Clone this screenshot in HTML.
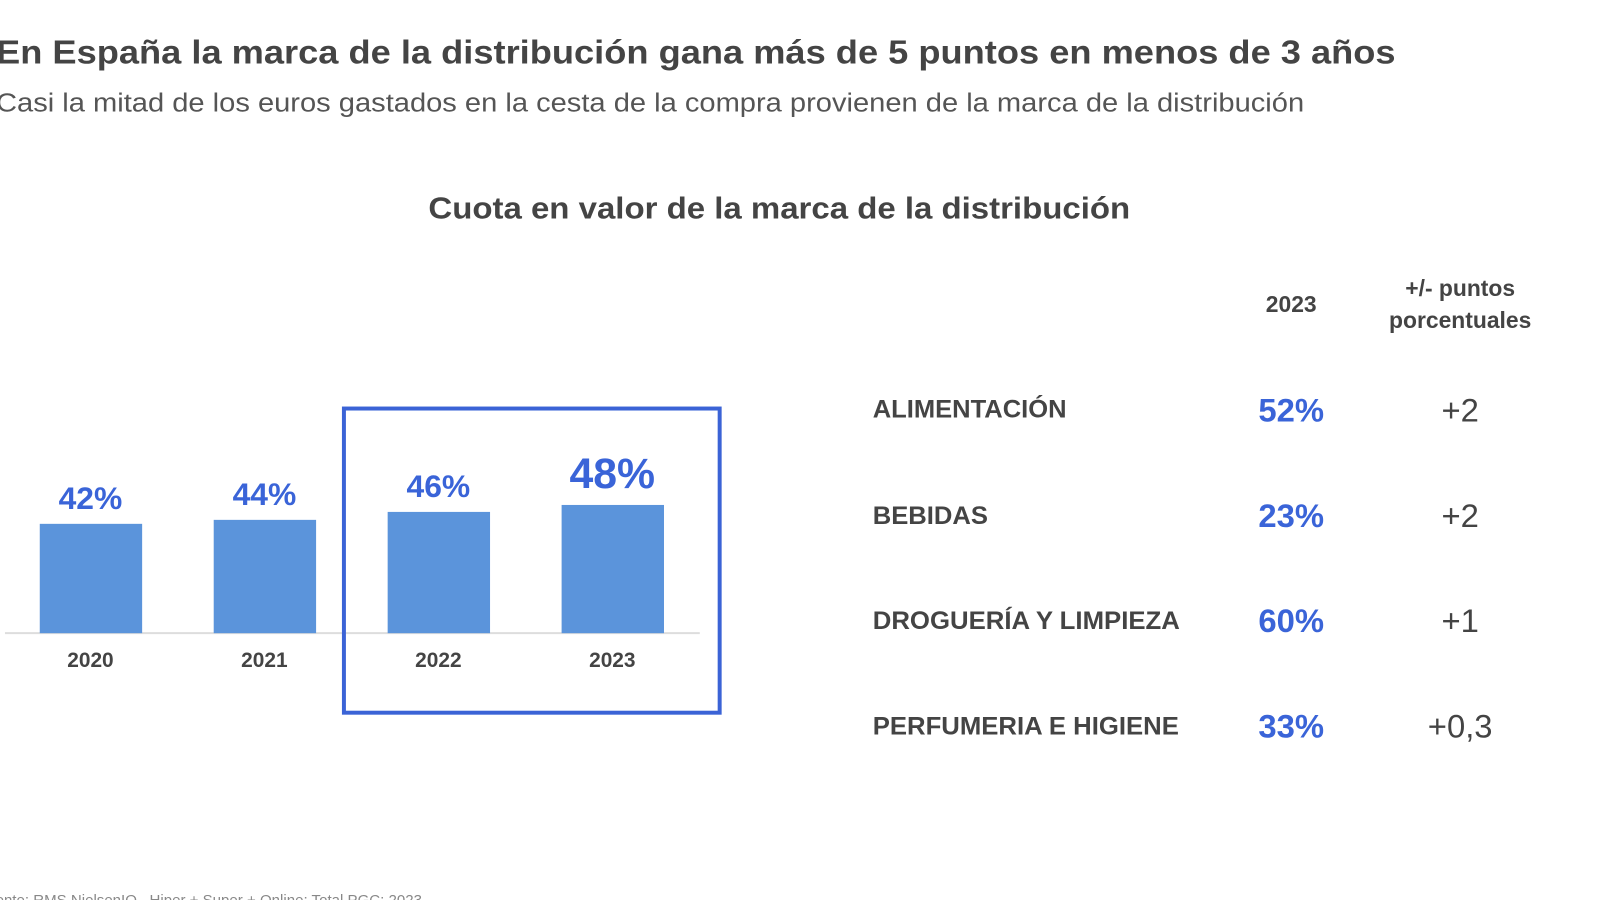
<!DOCTYPE html>
<html><head><meta charset="utf-8"><style>
html,body{margin:0;padding:0;background:#fff;width:1600px;height:900px;overflow:hidden}
svg{display:block;font-family:"Liberation Sans",Arial,sans-serif}
</style></head><body>
<svg width="1600" height="900" viewBox="0 0 1600 900">
<g transform="scale(0.994)">
<text x="-4" y="64" font-size="34" font-weight="bold" fill="#444" textLength="1408" lengthAdjust="spacingAndGlyphs">En España la marca de la distribución gana más de 5 puntos en menos de 3 años</text>
<text x="-4" y="112" font-size="26" fill="#555" textLength="1316" lengthAdjust="spacingAndGlyphs">Casi la mitad de los euros gastados en la cesta de la compra provienen de la marca de la distribución</text>
<text x="431" y="220" font-size="31" font-weight="bold" fill="#444" textLength="706" lengthAdjust="spacingAndGlyphs">Cuota en valor de la marca de la distribución</text>

<line x1="5" y1="637" x2="704" y2="637" stroke="#ddd" stroke-width="2"/>
<rect x="40" y="527" width="103" height="110" fill="#5b94db"/>
<rect x="215" y="523" width="103" height="114" fill="#5b94db"/>
<rect x="390" y="515" width="103" height="122" fill="#5b94db"/>
<rect x="565" y="508" width="103" height="129" fill="#5b94db"/>
<g font-weight="bold" fill="#3a64d8" text-anchor="middle">
<text x="91" y="512" font-size="32">42%</text>
<text x="266" y="508" font-size="32">44%</text>
<text x="441" y="500" font-size="32">46%</text>
<text x="616" y="491" font-size="43">48%</text>
</g>
<g font-weight="bold" fill="#444" text-anchor="middle" font-size="21">
<text x="91" y="671">2020</text>
<text x="266" y="671">2021</text>
<text x="441" y="671">2022</text>
<text x="616" y="671">2023</text>
</g>
<rect x="346" y="411" width="378" height="306" fill="none" stroke="#3b63d6" stroke-width="4"/>

<g font-weight="bold" fill="#444" font-size="23" text-anchor="middle">
<text x="1299" y="314">2023</text>
<text x="1469" y="298">+/- puntos</text>
<text x="1469" y="330">porcentuales</text>
</g>
<g font-weight="bold" fill="#444" font-size="25" lengthAdjust="spacingAndGlyphs">
<text x="878" y="420" textLength="195" lengthAdjust="spacingAndGlyphs">ALIMENTACIÓN</text>
<text x="878" y="527" textLength="116" lengthAdjust="spacingAndGlyphs">BEBIDAS</text>
<text x="878" y="633" textLength="309" lengthAdjust="spacingAndGlyphs">DROGUERÍA Y LIMPIEZA</text>
<text x="878" y="739" textLength="308" lengthAdjust="spacingAndGlyphs">PERFUMERIA E HIGIENE</text>
</g>
<g font-weight="bold" fill="#3a64d8" font-size="33" text-anchor="middle">
<text x="1299" y="424">52%</text>
<text x="1299" y="530">23%</text>
<text x="1299" y="636">60%</text>
<text x="1299" y="742">33%</text>
</g>
<g fill="#444" font-size="33" text-anchor="middle">
<text x="1469" y="424">+2</text>
<text x="1469" y="530">+2</text>
<text x="1469" y="636">+1</text>
<text x="1469" y="742">+0,3</text>
</g>
</g>
<text x="-22" y="905" font-size="15" fill="#888" textLength="444" lengthAdjust="spacingAndGlyphs">Fuente: RMS NielsenIQ– Hiper + Super + Online; Total PGC; 2023</text>
</svg>
</body></html>
